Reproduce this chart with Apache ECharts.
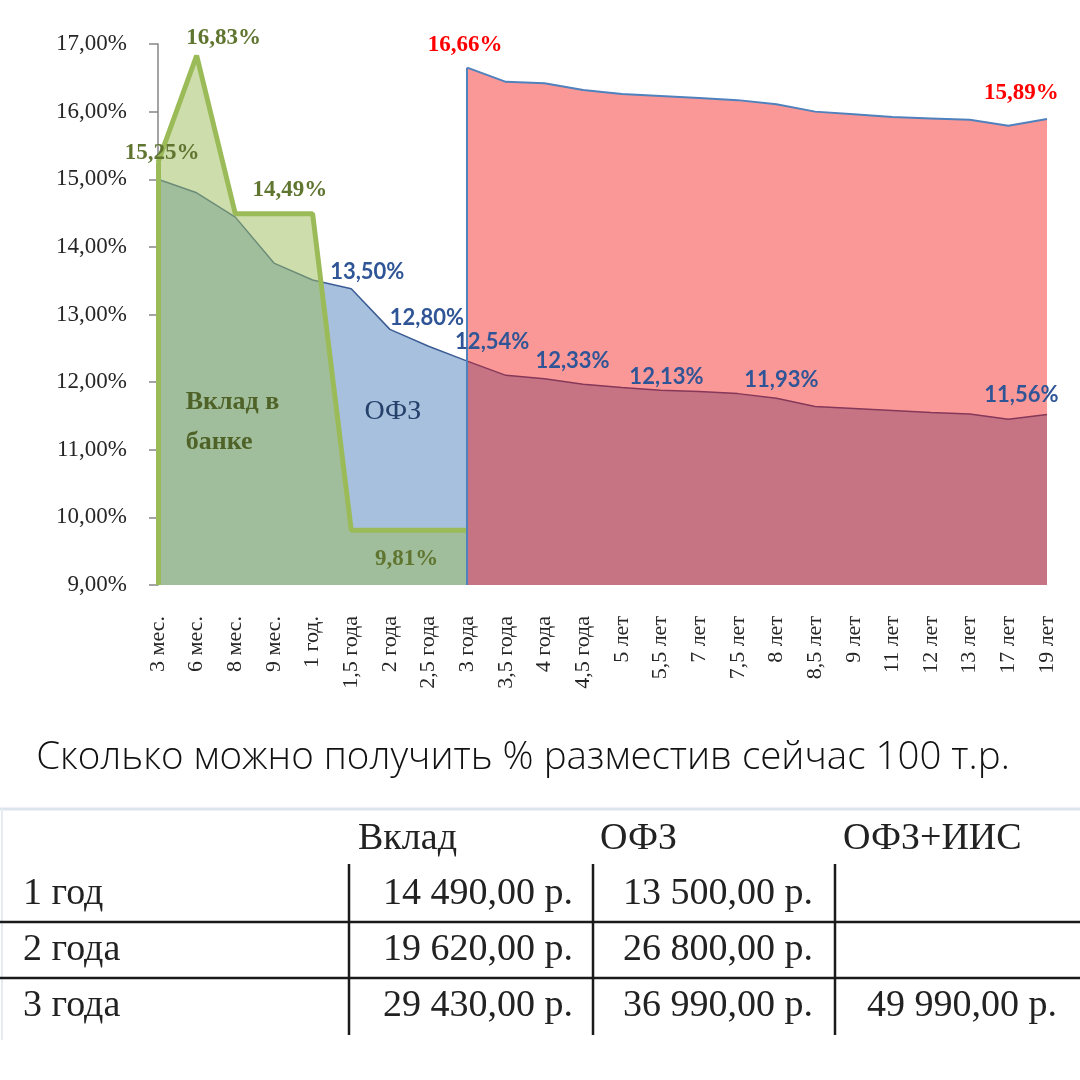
<!DOCTYPE html>
<html>
<head>
<meta charset="utf-8">
<script src="https://cdn.jsdelivr.net/npm/echarts@6/dist/echarts.min.js"></script>
<style>
  html, body { margin: 0; padding: 0; background: #fff; }
  #chart { width: 1080px; height: 1080px; }
</style>
</head>
<body>
<div id="chart"></div>
<script>
// сроки
const categories = ['3 мес.', '6 мес.', '8 мес.', '9 мес.', '1 год.', '1,5 года', '2 года', '2,5 года',
  '3 года', '3,5 года', '4 года', '4,5 года', '5 лет', '5,5 лет', '7 лет', '7,5 лет', '8 лет',
  '8,5 лет', '9 лет', '11 лет', '12 лет', '13 лет', '17 лет', '19 лет'];

// доходность ОФЗ (кривая)
const ofzYield = [15.00, 14.80, 14.44, 13.76, 13.51, 13.38, 12.78, 12.53, 12.31, 12.10, 12.05, 11.97,
  11.92, 11.88, 11.86, 11.83, 11.76, 11.64, 11.61, 11.58, 11.55, 11.53, 11.45, 11.52];

// ставки по вкладам
const depositYield = [15.25, 16.83, 14.49, 14.49, 14.49, 9.81, 9.81, 9.81, 9.81,
  null, null, null, null, null, null, null, null, null, null, null, null, null, null, null];

// ОФЗ + ИИС
const iisYield = [null, null, null, null, null, null, null, null,
  16.65, 16.44, 16.42, 16.32, 16.26, 16.23, 16.20, 16.17, 16.11, 16.00, 15.96, 15.92, 15.90, 15.88, 15.79, 15.89];

// подписи
const depositNotes = ['15,25%', '16,83%', '14,49%', '9,81%'];
const ofzNotes = ['13,50%', '12,80%', '12,54%', '12,33%', '12,13%', '11,93%', '11,56%'];
const iisNotes = ['16,66%', '15,89%'];

// таблица
const tableTitle = 'Сколько можно получить % разместив сейчас 100 т.р.';
const tableHeader = ['Вклад', 'ОФЗ', 'ОФЗ+ИИС'];
const tableRows = ['1 год', '2 года', '3 года'];
const depositIncome = [14490, 19620, 29430];
const ofzIncome = [13500, 26800, 36990];
const iisIncome = [null, null, 49990];

const chart = echarts.init(document.getElementById('chart'));

const SERIF = '"Liberation Serif", "Times New Roman", serif';

function pct(v) {
  return v.toFixed(2).replace('.', ',') + '%';
}

function rub(v) {
  if (v == null) return '';
  const s = Math.round(v).toString().replace(/\B(?=(\d{3})+(?!\d))/g, ' ');
  return s + ',00 р.';
}

// точка-якорь для подписи: индекс точки на серии и сдвиг в пикселях
function note(arr, idx, text, offset, labelStyle) {
  return {
    name: text,
    coord: [categories[idx], arr[idx]],
    label: Object.assign({ offset: offset }, labelStyle || {})
  };
}

const hiddenPoint = {
  symbol: 'circle',
  symbolSize: 1,
  itemStyle: { color: 'transparent' },
  z: 10
};

const greenLabel = { color: '#5f7530', fontFamily: SERIF, fontWeight: 'bold', fontSize: 23 };
const blueLabel = { color: '#2f5597', fontFamily: 'Lato, "Open Sans", sans-serif', fontWeight: 'bold', fontSize: 22 };
const redLabel = { color: '#ff0000', fontFamily: SERIF, fontWeight: 'bold', fontSize: 23 };

// графика таблицы
const graphic = [];
graphic.push({
  type: 'text', x: 523, y: 758,
  style: { text: tableTitle, fontFamily: '"Open Sans", sans-serif', fontWeight: 300, fontSize: 38.5, fill: '#111', align: 'center', verticalAlign: 'middle' }
});
graphic.push({ type: 'line', shape: { x1: 0, y1: 809, x2: 1080, y2: 809 }, style: { stroke: '#dde4ee', lineWidth: 3 } });
graphic.push({ type: 'line', shape: { x1: 2, y1: 809, x2: 2, y2: 1040 }, style: { stroke: '#e6ebf2', lineWidth: 2 } });
[922, 978].forEach(y => {
  graphic.push({ type: 'line', shape: { x1: 0, y1: y, x2: 1080, y2: y }, style: { stroke: '#1a1a1a', lineWidth: 2.5 } });
});
[349, 593, 835].forEach(x => {
  graphic.push({ type: 'line', shape: { x1: x, y1: 864, x2: x, y2: 1035 }, style: { stroke: '#1a1a1a', lineWidth: 2.5 } });
});
const cellFont = { fontFamily: SERIF, fontSize: 38, fill: '#222', verticalAlign: 'middle' };
const headerX = [358, 600, 843];
tableHeader.forEach((h, i) => {
  graphic.push({ type: 'text', x: headerX[i], y: 839, style: Object.assign({ text: h, align: 'left' }, cellFont) });
});
const rowY = [894, 950, 1006];
const valueRight = [573, 813, 1057];
tableRows.forEach((r, i) => {
  graphic.push({ type: 'text', x: 23, y: rowY[i], style: Object.assign({ text: r, align: 'left' }, cellFont) });
  [depositIncome, ofzIncome, iisIncome].forEach((col, j) => {
    graphic.push({ type: 'text', x: valueRight[j], y: rowY[i], style: Object.assign({ text: rub(col[i]), align: 'right' }, cellFont) });
  });
});

const option = {
  animation: false,
  backgroundColor: '#fff',
  grid: { left: 158, right: 33, top: 44, bottom: 495 },
  xAxis: {
    type: 'category',
    data: categories,
    boundaryGap: false,
    axisLine: { show: false },
    axisTick: { show: false },
    axisLabel: {
      interval: 0,
      rotate: 90,
      margin: 31,
      fontFamily: SERIF,
      fontSize: 22,
      color: '#262626'
    }
  },
  yAxis: {
    type: 'value',
    min: 9,
    max: 17,
    interval: 1,
    splitLine: { show: false },
    axisLine: { show: true, lineStyle: { color: '#868686', width: 1.5 } },
    axisTick: { show: true, length: 9, lineStyle: { color: '#868686', width: 1.5 } },
    axisLabel: {
      margin: 31,
      fontFamily: SERIF,
      fontSize: 23,
      color: '#262626',
      formatter: pct
    }
  },
  graphic: graphic,
  series: [
    {
      name: 'ОФЗ',
      type: 'line',
      data: ofzYield,
      showSymbol: false,
      z: 2,
      lineStyle: { color: '#3b5d95', width: 1.5 },
      areaStyle: { color: 'rgba(79,129,189,0.5)', opacity: 1, origin: 'start' },
      markPoint: Object.assign({
        label: Object.assign({ show: true, position: 'inside', formatter: p => p.name }, blueLabel),
        data: [
          note(ofzYield, 5, ofzNotes[0], [16, -17]),
          note(ofzYield, 6, ofzNotes[1], [37, -11]),
          note(ofzYield, 8, ofzNotes[2], [25, -19]),
          note(ofzYield, 10, ofzNotes[3], [28, -18]),
          note(ofzYield, 13, ofzNotes[4], [6, -13]),
          note(ofzYield, 16, ofzNotes[5], [5, -18]),
          note(ofzYield, 22, ofzNotes[6], [13, -24]),
          {
            name: 'ОФЗ',
            coord: ['2 года', 11.56],
            label: { offset: [3, 0], fontFamily: SERIF, fontSize: 28, fontWeight: 'normal', color: '#24406b' }
          }
        ]
      }, hiddenPoint)
    },
    {
      name: 'Вклад',
      type: 'line',
      data: depositYield,
      showSymbol: false,
      z: 3,
      lineStyle: { color: '#9bbb59', width: 5 },
      areaStyle: { color: 'rgba(155,187,89,0.5)', opacity: 1, origin: 'start' },
      markLine: {
        symbol: ['none', 'none'],
        silent: true,
        label: { show: false },
        lineStyle: { color: '#9bbb59', width: 5, type: 'solid' },
        data: [[{ coord: [categories[0], 9] }, { coord: [categories[0], depositYield[0]] }]]
      },
      markPoint: Object.assign({
        label: Object.assign({ show: true, position: 'inside', formatter: p => p.name }, greenLabel),
        data: [
          note(depositYield, 0, depositNotes[0], [4, -9]),
          note(depositYield, 1, depositNotes[1], [27, -17]),
          note(depositYield, 3, depositNotes[2], [16, -24]),
          note(depositYield, 7, depositNotes[3], [-22, 29]),
          {
            name: 'Вклад в\nбанке',
            coord: ['6 мес.', 11.4],
            label: { offset: [-11, 0], align: 'left', lineHeight: 40, fontSize: 26, color: '#4f6228' }
          }
        ]
      }, hiddenPoint)
    },
    {
      name: 'ОФЗ+ИИС',
      type: 'line',
      data: iisYield,
      showSymbol: false,
      z: 4,
      lineStyle: { color: '#4f81bd', width: 2 },
      areaStyle: { color: 'rgba(243,6,6,0.41)', opacity: 1, origin: 'start' },
      markLine: {
        symbol: ['none', 'none'],
        silent: true,
        label: { show: false },
        lineStyle: { color: '#4f81bd', width: 2, type: 'solid' },
        data: [[{ coord: [categories[8], 9] }, { coord: [categories[8], iisYield[8]] }]]
      },
      markPoint: Object.assign({
        label: Object.assign({ show: true, position: 'inside', formatter: p => p.name }, redLabel),
        data: [
          note(iisYield, 8, iisNotes[0], [-2, -23]),
          note(iisYield, 22, iisNotes[1], [13, -33])
        ]
      }, hiddenPoint)
    }
  ]
};

chart.setOption(option);
</script>
</body>
</html>
